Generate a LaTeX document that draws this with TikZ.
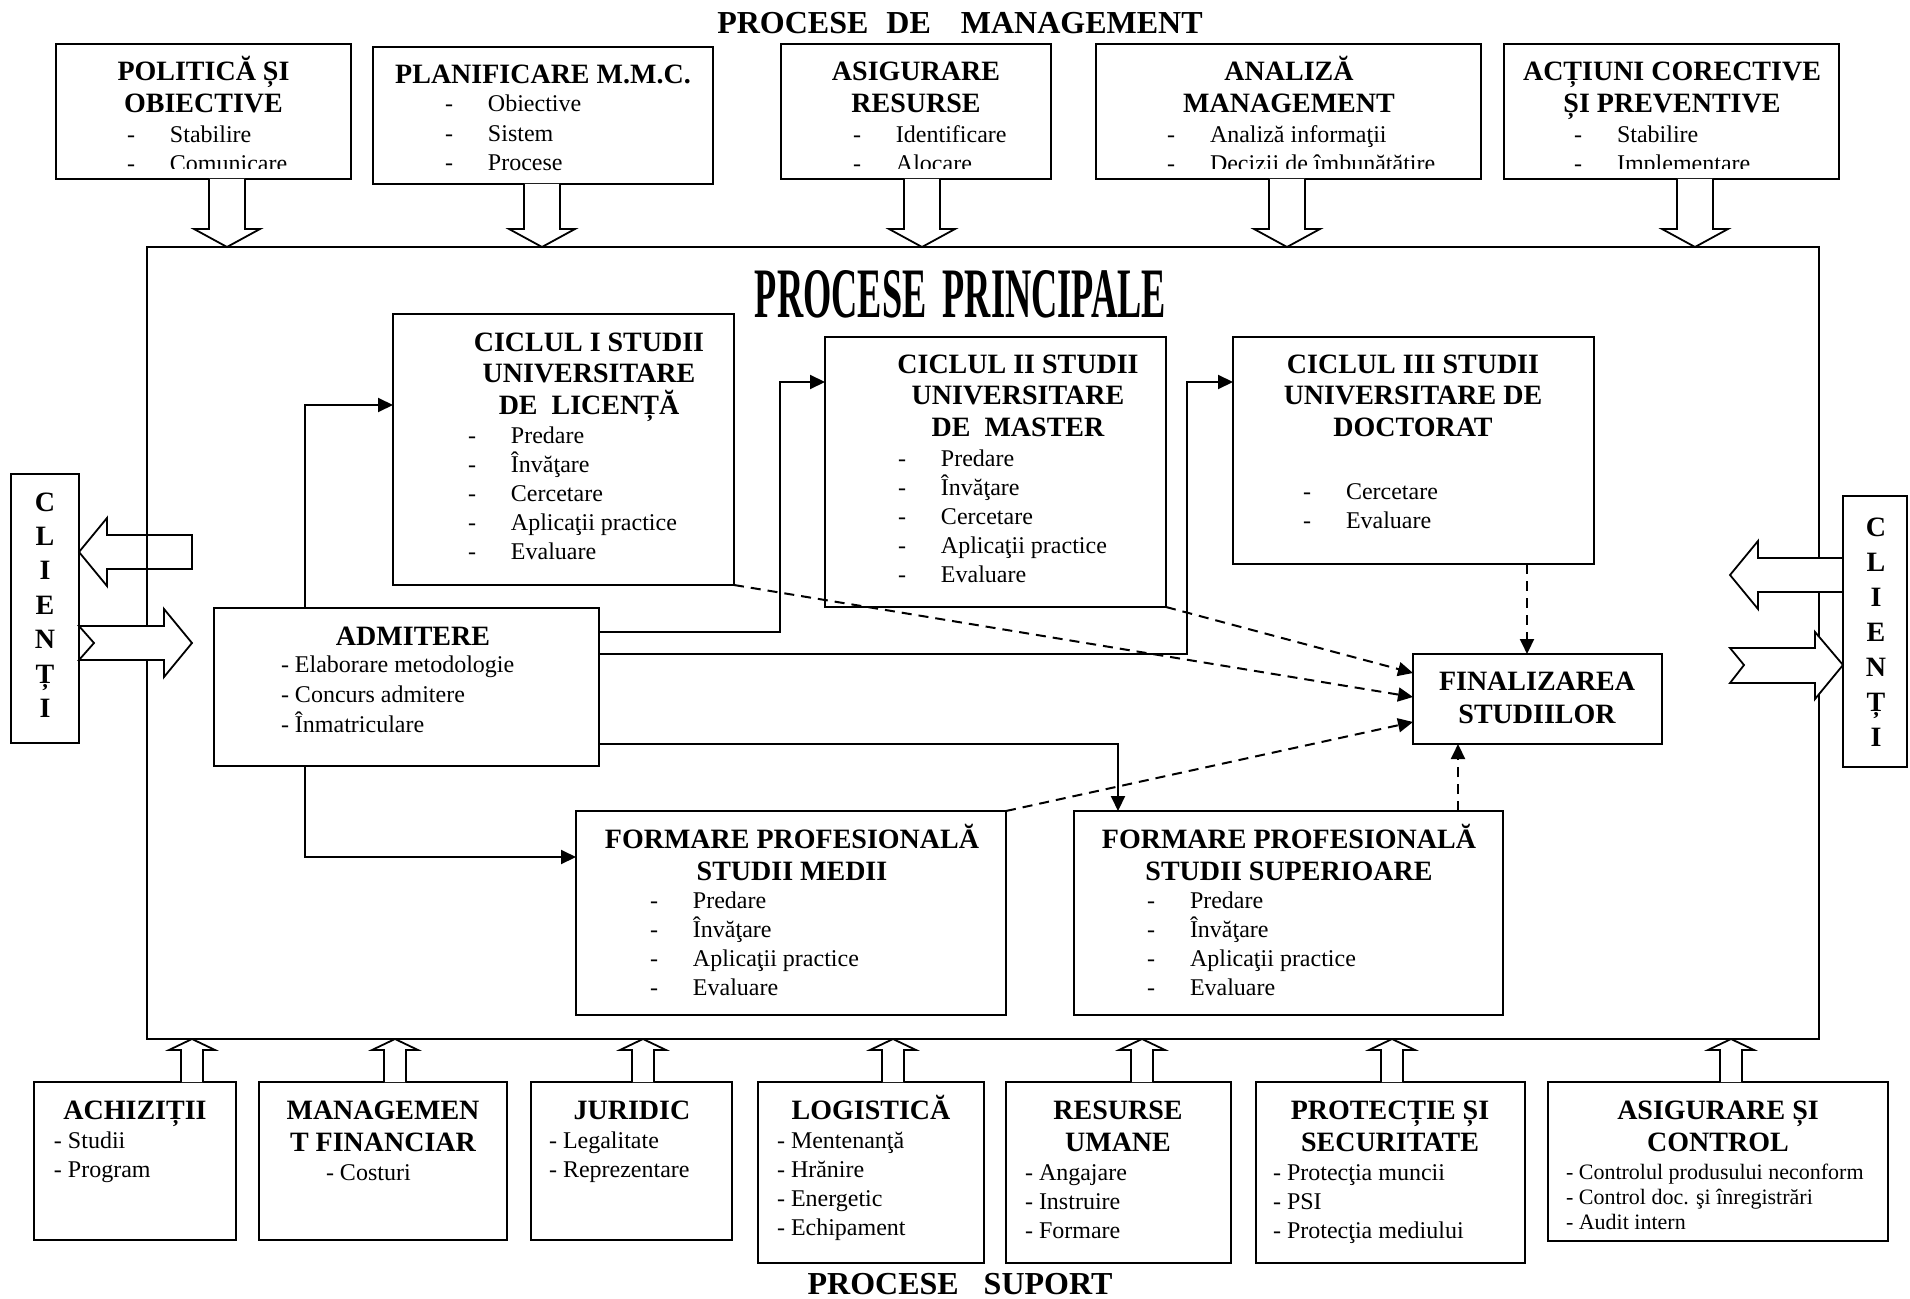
\documentclass[tikz,border=0pt]{standalone}
\usepackage{fontspec}
\usepackage{graphicx}
\setmainfont{Liberation Serif}
\usetikzlibrary{arrows.meta}

\tikzset{
  pbox/.style={draw, line width=1pt, fill=white, inner sep=0pt, outer sep=0pt, anchor=north west, rectangle},
  hdr/.style={anchor=base, inner sep=0pt, outer sep=0pt, font=\fontsize{14}{16}\selectfont\bfseries},
  itm/.style={anchor=base west, inner sep=0pt, outer sep=0pt, font=\fontsize{12}{14}\selectfont},
  smallitm/.style={anchor=base west, inner sep=0pt, outer sep=0pt, font=\fontsize{11}{13}\selectfont},
  ttl/.style={anchor=base, inner sep=0pt, outer sep=0pt, font=\fontsize{16}{18}\selectfont\bfseries},
  conn/.style={line width=1pt, -{Triangle[length=7.5pt,width=7pt]}},
  dconn/.style={conn, dash pattern=on 5pt off 3.5pt},
  harrow/.style={draw, line width=0.9pt, fill=white, line join=miter},
}

% box given by its corners (x1,y1) (x2,y2)
\newcommand\pbox[5]{\node[pbox, minimum width={(#4-#2)*0.5pt}, minimum height={(#5-#3)*0.5pt}] (#1) at (#2,#3) {};}
% centred bold heading lines
\newcommand\hlines[5]{\foreach \t [count=\i] in {#5} \node[hdr] (#1-\i) at ({#2},{#3+(\i-1)*#4}) {\t};}
% list items with a dash and a tab
\newcommand\dashitems[5]{\foreach \t [count=\i] in {#5} \node[itm] (#1-\i) at ({#2},{#3+(\i-1)*#4}) {\makebox[21.5pt][l]{-}\t};}
% plain list lines
\newcommand\plines[6]{\foreach \t [count=\i] in {#6} \node[#5] (#1-\i) at ({#2},{#3+(\i-1)*#4}) {\t};}
% hollow block arrows
\newcommand\hdown[2]{\draw[harrow] (#1-18,#2) -- (#1-18,229) -- (#1-33,229) -- (#1,247) -- (#1+33,229) -- (#1+18,229) -- (#1+18,#2);}
\newcommand\hup[1]{\draw[harrow] (#1-11,1082) -- (#1-11,1050) -- (#1-23,1050) -- (#1,1039) -- (#1+23,1050) -- (#1+11,1050) -- (#1+11,1082);}

\begin{document}
\begin{tikzpicture}[x=0.5pt,y=-0.5pt]
\useasboundingbox (0,0) rectangle (1910,1299);

% titles
\node[ttl] (ttop) at (960,34) {PROCESE\hspace{9pt}DE\hspace{15pt}MANAGEMENT};
\node[ttl] (tbot) at (960,1294) {PROCESE\hspace{12.5pt}SUPORT};

% main processes frame
\node[pbox, line width=0.8pt, minimum width={(1819-147)*0.5pt}, minimum height={(1039-247)*0.5pt}] (main) at (147,247) {};
\node[anchor=base, inner sep=0pt] (tmain) at (960.5,318) {\resizebox{205.5pt}{23.5pt}{\bfseries PROCESE\hspace{0.45em}PRINCIPALE}};

% management processes
\pbox{pol}{56}{44}{351}{179}
\pbox{plan}{373}{47}{713}{184}
\pbox{asr}{781}{44}{1051}{179}
\pbox{anm}{1096}{44}{1481}{179}
\pbox{act}{1504}{44}{1839}{179}

\hlines{pol-h}{203.5}{81}{31.7}{POLITICĂ ȘI,OBIECTIVE}
\hlines{plan-h}{543}{83.5}{31.7}{PLANIFICARE M.M.C.}
\hlines{asr-h}{916}{81}{31.7}{ASIGURARE,RESURSE}
\hlines{anm-h}{1289}{81}{31.7}{ANALIZĂ,MANAGEMENT}
\hlines{act-h}{1672}{81}{31.7}{ACȚIUNI CORECTIVE,ȘI PREVENTIVE}

\dashitems{plan-i}{445}{112}{29.2}{Obiective,Sistem,Procese}
\begin{scope}
  \clip (56,44) rectangle (351,169);
  \dashitems{pol-i}{127}{142.5}{29.2}{Stabilire,Comunicare}
\end{scope}
\begin{scope}
  \clip (781,44) rectangle (1051,169);
  \dashitems{asr-i}{853}{142.5}{29.2}{Identificare,Alocare}
\end{scope}
\begin{scope}
  \clip (1096,44) rectangle (1481,169);
  \dashitems{anm-i}{1167}{142.5}{29.2}{Analiză informaţii,Decizii de îmbunătăţire}
\end{scope}
\begin{scope}
  \clip (1504,44) rectangle (1839,169);
  \dashitems{act-i}{1574}{142.5}{29.2}{Stabilire,Implementare}
\end{scope}

\hdown{227}{179}
\hdown{542}{184}
\hdown{922}{179}
\hdown{1287}{179}
\hdown{1695}{179}

% main processes
\pbox{c1}{393}{314}{734}{585}
\pbox{c2}{825}{337}{1166}{607}
\pbox{c3}{1233}{337}{1594}{564}
\pbox{adm}{214}{608}{599}{766}
\pbox{fin}{1413}{654}{1662}{744}
\pbox{fmed}{576}{811}{1006}{1015}
\pbox{fsup}{1074}{811}{1503}{1015}

\hlines{c1-h}{589}{351}{31.7}{CICLUL I STUDII,UNIVERSITARE,DE\ \ LICENȚĂ}
\dashitems{c1-i}{468}{443}{29.2}{Predare,Învăţare,Cercetare,Aplicaţii practice,Evaluare}
\hlines{c2-h}{1018}{373}{31.7}{CICLUL II STUDII,UNIVERSITARE,DE\ \ MASTER}
\dashitems{c2-i}{898}{466}{29.2}{Predare,Învăţare,Cercetare,Aplicaţii practice,Evaluare}
\hlines{c3-h}{1413}{373}{31.7}{CICLUL III STUDII,UNIVERSITARE DE,DOCTORAT}
\dashitems{c3-i}{1303}{499}{29.2}{Cercetare,Evaluare}
\hlines{adm-h}{413}{645}{31.7}{ADMITERE}
\plines{adm-i}{281}{672}{30}{itm}{- Elaborare metodologie,- Concurs admitere,- Înmatriculare}
\hlines{fin-h}{1537}{690}{33}{FINALIZAREA,STUDIILOR}
\hlines{fmed-h}{792}{848}{32}{FORMARE PROFESIONALĂ,STUDII MEDII}
\dashitems{fmed-i}{650}{908}{29.3}{Predare,Învăţare,Aplicaţii practice,Evaluare}
\hlines{fsup-h}{1289}{848}{32}{FORMARE PROFESIONALĂ,STUDII SUPERIOARE}
\dashitems{fsup-i}{1147}{908}{29.3}{Predare,Învăţare,Aplicaţii practice,Evaluare}

% flow from admission
\draw[conn] (305,0 |- adm.north) |- (c1.west |- 0,405);
\draw[conn] (adm.east |- 0,632) -| (780,382) -- (c2.west |- 0,382);
\draw[conn] (adm.east |- 0,654) -| (1187,382) -- (c3.west |- 0,382);
\draw[conn] (adm.east |- 0,744) -| (1118,0 |- fsup.north);
\draw[conn] (305,0 |- adm.south) |- (fmed.west |- 0,857);

% towards completion of studies
\draw[dconn] (c2.south east) -- (fin.west |- 0,673);
\draw[dconn] (c1.south east) -- (fin.west |- 0,697);
\draw[dconn] (fmed.north east) -- (fin.west |- 0,722);
\draw[dconn] (1527,0 |- c3.south) -- (1527,0 |- fin.north);
\draw[dconn] (1458,0 |- fsup.north) -- (1458,0 |- fin.south);

% clients
\pbox{clL}{11}{474}{79}{743}
\pbox{clR}{1843}{496}{1907}{767}
\hlines{clL-l}{45}{511}{34.4}{C,L,I,E,N,Ț,I}
\hlines{clR-l}{1876}{536}{35}{C,L,I,E,N,Ț,I}

\draw[harrow, fill=none] (192,535) -- (107,535) -- (107,518) -- (79,552) -- (107,586) -- (107,569) -- (192,569) -- cycle;
\draw[harrow] (79,626) -- (164,626) -- (164,609) -- (192,643) -- (164,677) -- (164,660) -- (79,660) -- (94,643) -- cycle;
\draw[harrow] (1843,558) -- (1758,558) -- (1758,541) -- (1730,575) -- (1758,609) -- (1758,592) -- (1843,592) -- cycle;
\draw[harrow] (1730,648) -- (1815,648) -- (1815,632) -- (1843,665) -- (1815,699) -- (1815,683) -- (1730,683) -- (1744,665) -- cycle;

% support processes
\pbox{ach}{34}{1082}{236}{1240}
\pbox{mfin}{259}{1082}{507}{1240}
\pbox{jur}{531}{1082}{732}{1240}
\pbox{log}{758}{1082}{984}{1263}
\pbox{rum}{1006}{1082}{1231}{1263}
\pbox{prot}{1256}{1082}{1525}{1263}
\pbox{asc}{1548}{1082}{1888}{1241}

\hlines{ach-h}{135}{1119}{32}{ACHIZIȚII}
\plines{ach-i}{54}{1148}{29.2}{itm}{- Studii,- Program}
\hlines{mfin-h}{383}{1119}{32}{MANAGEMEN,T FINANCIAR}
\plines{mfin-i}{326}{1180}{29.2}{itm}{- Costuri}
\hlines{jur-h}{632}{1119}{32}{JURIDIC}
\plines{jur-i}{549}{1148}{29.2}{itm}{- Legalitate,- Reprezentare}
\hlines{log-h}{871}{1119}{32}{LOGISTICĂ}
\plines{log-i}{777}{1148}{29.2}{itm}{- Mentenanţă,- Hrănire,- Energetic,- Echipament}
\hlines{rum-h}{1118}{1119}{32}{RESURSE,UMANE}
\plines{rum-i}{1025}{1180}{29.2}{itm}{- Angajare,- Instruire,- Formare}
\hlines{prot-h}{1390}{1119}{32}{PROTECȚIE ȘI,SECURITATE}
\plines{prot-i}{1273}{1180}{29.2}{itm}{- Protecţia muncii,- PSI,- Protecţia mediului}
\hlines{asc-h}{1718}{1119}{32}{ASIGURARE ȘI,CONTROL}
\plines{asc-i}{1566}{1179}{25}{smallitm}{- Controlul produsului neconform,- Control doc. şi înregistrări,- Audit intern}

\hup{192}
\hup{395}
\hup{643}
\hup{893}
\hup{1142}
\hup{1392}
\hup{1731}
\end{tikzpicture}
\end{document}
